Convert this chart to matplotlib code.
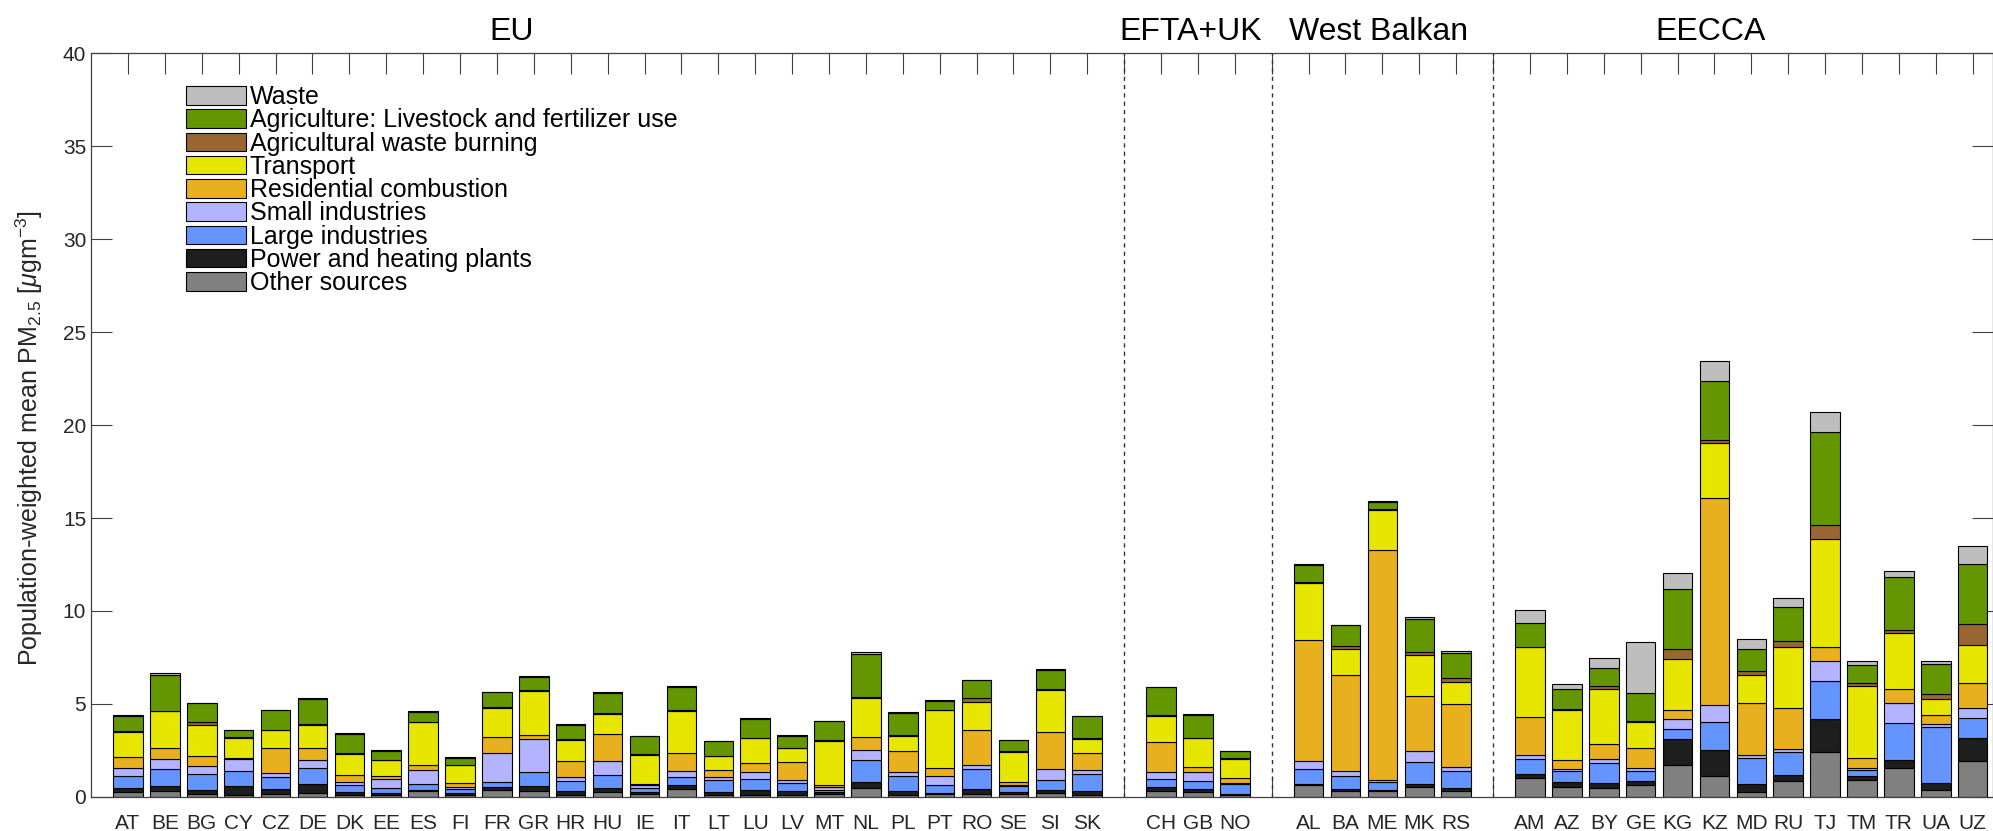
import numpy as np
import matplotlib
matplotlib.use("Agg")
import matplotlib.pyplot as plt
from matplotlib.patches import Patch

plt.rcParams['font.family'] = ['Liberation Sans', 'DejaVu Sans']
plt.rcParams['mathtext.fontset'] = 'custom'
plt.rcParams['mathtext.rm'] = 'Liberation Sans'
plt.rcParams['mathtext.it'] = 'Liberation Sans:italic'

# paises por region
eu = ['AT', 'BE', 'BG', 'CY', 'CZ', 'DE', 'DK', 'EE', 'ES', 'FI', 'FR', 'GR', 'HR', 'HU',
      'IE', 'IT', 'LT', 'LU', 'LV', 'MT', 'NL', 'PL', 'PT', 'RO', 'SE', 'SI', 'SK']
efta = ['CH', 'GB', 'NO']
balkan = ['AL', 'BA', 'ME', 'MK', 'RS']
eecca = ['AM', 'AZ', 'BY', 'GE', 'KG', 'KZ', 'MD', 'RU', 'TJ', 'TM', 'TR', 'UA', 'UZ']
region_names = ['EU', 'EFTA+UK', 'West Balkan', 'EECCA']

# contribuciones (ug/m3), mismo orden que los paises: EU | EFTA+UK | West Balkan | EECCA
other = [0.25, 0.30, 0.16, 0.13, 0.16, 0.23, 0.13, 0.09, 0.34, 0.09, 0.38, 0.34, 0.13, 0.25,
         0.18, 0.43, 0.11, 0.13, 0.11, 0.14, 0.48, 0.13, 0.18, 0.16, 0.14, 0.20, 0.13,
         0.30, 0.25, 0.11,
         0.65, 0.30, 0.32, 0.54, 0.30,
         1.02, 0.56, 0.46, 0.63, 1.70, 1.11, 0.24, 0.87, 2.44, 0.93, 1.54, 0.37, 1.94]
power = [0.23, 0.27, 0.22, 0.44, 0.25, 0.49, 0.14, 0.11, 0.02, 0.11, 0.14, 0.27, 0.17, 0.23,
         0.09, 0.23, 0.16, 0.26, 0.19, 0.11, 0.31, 0.21, 0.03, 0.27, 0.15, 0.19, 0.19,
         0.24, 0.20, 0.07,
         0.03, 0.11, 0.07, 0.18, 0.17,
         0.22, 0.22, 0.28, 0.20, 1.39, 1.43, 0.43, 0.32, 1.73, 0.18, 0.42, 0.39, 1.25]
large = [0.63, 0.93, 0.85, 0.83, 0.65, 0.82, 0.39, 0.30, 0.34, 0.23, 0.28, 0.75, 0.54, 0.72,
         0.23, 0.40, 0.66, 0.58, 0.45, 0.14, 1.18, 0.77, 0.42, 1.07, 0.28, 0.54, 0.90,
         0.45, 0.39, 0.54,
         0.83, 0.70, 0.40, 1.16, 0.93,
         0.78, 0.63, 1.11, 0.58, 0.56, 1.50, 1.40, 1.22, 2.09, 0.35, 2.02, 2.98, 1.03]
small = [0.43, 0.54, 0.45, 0.64, 0.25, 0.43, 0.14, 0.48, 0.77, 0.09, 1.56, 1.75, 0.23, 0.71,
         0.14, 0.34, 0.14, 0.39, 0.14, 0.16, 0.53, 0.23, 0.51, 0.24, 0.09, 0.57, 0.25,
         0.35, 0.50, 0.03,
         0.44, 0.27, 0.14, 0.58, 0.21,
         0.22, 0.11, 0.17, 0.16, 0.54, 0.90, 0.19, 0.18, 1.04, 0.08, 1.08, 0.19, 0.58]
residential = [0.62, 0.61, 0.50, 0.04, 1.30, 0.64, 0.40, 0.16, 0.25, 0.25, 0.86, 0.24, 0.84, 1.47,
               0.08, 0.96, 0.38, 0.45, 0.99, 0.09, 0.72, 1.11, 0.40, 1.84, 0.14, 1.98, 0.90,
               1.60, 0.27, 0.27,
               6.49, 5.16, 12.35, 2.95, 3.39,
               2.06, 0.44, 0.85, 1.06, 0.48, 11.15, 2.80, 2.19, 0.76, 0.57, 0.72, 0.50, 1.35]
transport = [1.33, 1.95, 1.70, 1.07, 0.97, 1.24, 1.11, 0.83, 2.29, 0.93, 1.56, 2.36, 1.15, 1.09,
             1.55, 2.26, 0.73, 1.34, 0.73, 2.38, 2.09, 0.84, 3.11, 1.55, 1.62, 2.29, 0.75,
             1.41, 1.54, 1.04,
             3.08, 1.43, 2.15, 2.24, 1.16,
             3.74, 2.71, 2.96, 1.41, 2.77, 2.95, 1.48, 3.31, 5.81, 3.85, 3.05, 0.81, 2.00]
agri_burning = [0.03, 0.03, 0.13, 0.07, 0.03, 0.05, 0.03, 0.03, 0.03, 0.04, 0.03, 0.03, 0.03, 0.07,
                0.04, 0.03, 0.04, 0.03, 0.04, 0.04, 0.04, 0.04, 0.04, 0.18, 0.03, 0.05, 0.05,
                0.04, 0.04, 0.04,
                0.04, 0.13, 0.04, 0.15, 0.26,
                0.04, 0.05, 0.13, 0.03, 0.52, 0.18, 0.22, 0.28, 0.76, 0.17, 0.15, 0.28, 1.15]
agriculture = [0.83, 1.92, 1.02, 0.38, 1.06, 1.36, 1.04, 0.47, 0.54, 0.37, 0.83, 0.72, 0.77, 1.06,
               0.95, 1.24, 0.77, 1.02, 0.62, 1.02, 2.34, 1.20, 0.46, 0.97, 0.59, 1.03, 1.17,
               1.51, 1.24, 0.36,
               0.90, 1.13, 0.41, 1.77, 1.32,
               1.26, 1.11, 0.98, 1.54, 3.24, 3.13, 1.20, 1.87, 5.02, 0.94, 2.83, 1.65, 3.24]
waste = [0.03, 0.09, 0.01, 0.01, 0.03, 0.07, 0.04, 0.03, 0.04, 0.04, 0.03, 0.03, 0.04, 0.04,
         0.03, 0.05, 0.03, 0.04, 0.04, 0.03, 0.11, 0.03, 0.04, 0.03, 0.04, 0.03, 0.03,
         0.01, 0.03, 0.03,
         0.08, 0.04, 0.03, 0.11, 0.13,
         0.70, 0.26, 0.54, 2.72, 0.82, 1.08, 0.56, 0.48, 1.04, 0.26, 0.36, 0.13, 0.98]

source_names = ['Other sources', 'Power and heating plants', 'Large industries',
                'Small industries', 'Residential combustion', 'Transport',
                'Agricultural waste burning', 'Agriculture: Livestock and fertilizer use', 'Waste']
source_colors = ['#808080', '#1e1e1e', '#6495ff', '#b3b3ff', '#e8af1e',
                 '#e6e600', '#996633', '#639600', '#bebebe']
sources = [other, power, large, small, residential, transport, agri_burning, agriculture, waste]

# posiciones: un hueco entre regiones (ahi va la linea discontinua)
regions = [eu, efta, balkan, eecca]
countries = []
xpos = []
separators = []
pos = 1
for i, reg in enumerate(regions):
    for c in reg:
        countries.append(c)
        xpos.append(pos)
        pos += 1
    if i < len(regions) - 1:
        separators.append(pos)
        pos += 1
xpos = np.array(xpos)
n_slots = pos - 1

fig = plt.figure(figsize=(19.93, 8.31), dpi=100)
ax = fig.add_axes([0.0457, 0.041, 0.9543, 0.895])

bottom = np.zeros(len(countries))
for vals, col in zip(sources, source_colors):
    vals = np.array(vals)
    ax.bar(xpos, vals, width=0.8, bottom=bottom, color=col, edgecolor='k', linewidth=0.8)
    bottom += vals

for s in separators:
    ax.axvline(s, color='#333333', linestyle=(0, (3, 3)), linewidth=1)

ax.set_xlim(0, 51.55)
ax.set_ylim(0, 40)
ax.set_yticks(np.arange(0, 41, 5))

# ticks en todas las posiciones, etiqueta vacia en los huecos
all_ticks = np.arange(1, n_slots + 1)
labels = [''] * n_slots
for c, x in zip(countries, xpos):
    labels[x - 1] = c
ax.set_xticks(all_ticks)
ax.set_xticklabels(labels)
ax.set_axisbelow(True)
ax.tick_params(axis='both', direction='in', length=15, width=0.8, color='#404040',
               labelsize=15, labelcolor='#262626', top=True, right=True)
ax.tick_params(axis='x', pad=12)
for sp in ax.spines.values():
    sp.set_color('#404040')
    sp.set_linewidth(0.9)

ax.set_ylabel('Population-weighted mean PM$_{2.5}$ [$\\mu$gm$^{-3}$]', fontsize=18, color='#262626')
ax.yaxis.set_label_coords(-0.024, 0.483)

# titulos de region
for name, xc in zip(region_names, [11.4, 29.8, 34.9, 43.9]):
    ax.text(xc, 1.028, name, transform=ax.get_xaxis_transform(), ha='center', va='center',
            fontsize=23)

handles = [Patch(facecolor=c, edgecolor='k', linewidth=0.8, label=n)
           for n, c in zip(source_names, source_colors)][::-1]
ax.legend(handles=handles, loc='upper left', bbox_to_anchor=(0.05, 0.957), frameon=False,
          fontsize=18, borderpad=0, borderaxespad=0, labelspacing=-0.03,
          handlelength=2.4, handleheight=0.76, handletextpad=0.15)

plt.savefig('out.png', dpi=100)
